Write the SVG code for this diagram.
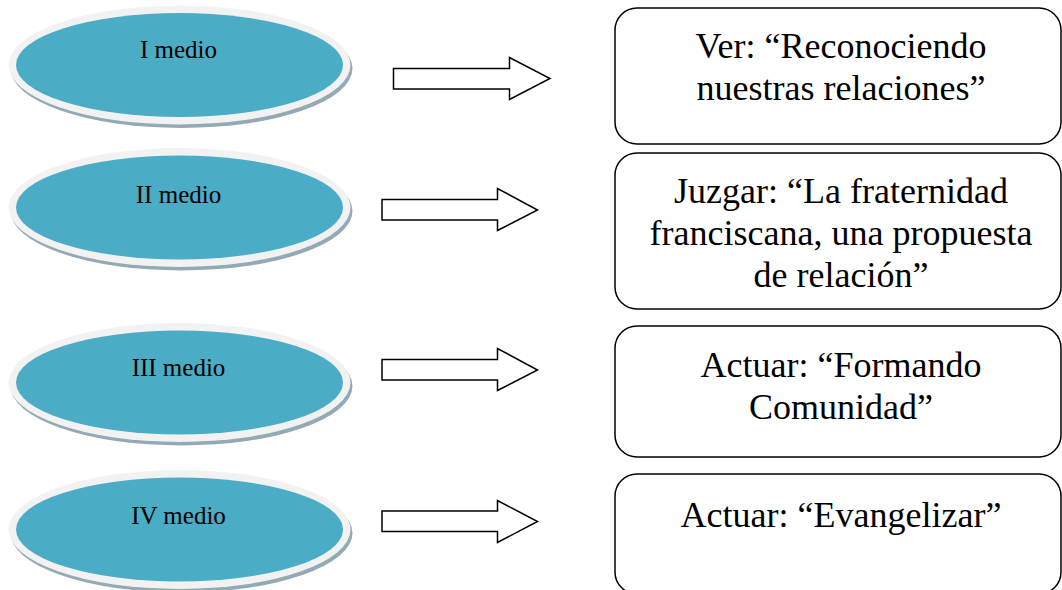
<svg xmlns="http://www.w3.org/2000/svg" width="1062" height="590" viewBox="0 0 1062 590">
<defs>
<style>
.shadow{fill:#93AAB5}
.ring{fill:#F2F2F2}
.core{fill:#4BACC6}
.etext{font-family:"Liberation Serif","Times New Roman",serif;font-size:25px;fill:#000;text-anchor:middle}
.box{fill:#fff;stroke:#000;stroke-width:1.5}
.btext{font-family:"Liberation Serif","Times New Roman",serif;font-size:36px;fill:#000;text-anchor:middle}
.arrow{fill:#fff;stroke:#000;stroke-width:1.5;stroke-linejoin:miter}
</style>
<g id="oval">
<ellipse class="shadow" cx="181.5" cy="3.5" rx="171" ry="59.5"/>
<ellipse class="ring" cx="179.5" cy="0" rx="171" ry="59.5"/>
<ellipse class="core" cx="179.5" cy="0" rx="163.5" ry="52"/>
</g>
</defs>
<rect width="1062" height="590" fill="#fff"/>
<g id="node-i">
<use href="#oval" y="65"/>
<text class="etext" x="178.5" y="58">I medio</text>
</g>
<g id="node-ii">
<use href="#oval" y="207.5"/>
<text class="etext" x="178.5" y="203">II medio</text>
</g>
<g id="node-iii">
<use href="#oval" y="382.5"/>
<text class="etext" x="178.5" y="376">III medio</text>
</g>
<g id="node-iv">
<use href="#oval" y="529.5"/>
<text class="etext" x="178.5" y="524">IV medio</text>
</g>
<g id="node-ver">
<rect class="box" x="615" y="8" width="446" height="136" rx="22"/>
<text class="btext" x="841" y="58">Ver: “Reconociendo</text>
<text class="btext" x="841" y="100">nuestras relaciones”</text>
</g>
<g id="node-juzgar">
<rect class="box" x="615" y="153" width="446" height="156" rx="22"/>
<text class="btext" x="841" y="203">Juzgar: “La fraternidad</text>
<text class="btext" x="841" y="245">franciscana, una propuesta</text>
<text class="btext" x="841" y="287">de relación”</text>
</g>
<g id="node-actuar1">
<rect class="box" x="615" y="326" width="446" height="131" rx="22"/>
<text class="btext" x="841" y="377">Actuar: “Formando</text>
<text class="btext" x="841" y="419">Comunidad”</text>
</g>
<g id="node-actuar2">
<rect class="box" x="615" y="474" width="446" height="120" rx="22"/>
<text class="btext" x="841" y="527">Actuar: “Evangelizar”</text>
</g>
<g id="connectors">
<polygon class="arrow" points="393.5,68.5 509.5,68.5 509.5,57.5 550,78.5 509.5,99.5 509.5,89 393.5,89"/>
<polygon class="arrow" points="382,199.5 497.5,199.5 497.5,188.5 537.5,210 497.5,230.5 497.5,220 382,220"/>
<polygon class="arrow" points="382,359.5 497.5,359.5 497.5,348.5 537.5,370 497.5,390.5 497.5,380 382,380"/>
<polygon class="arrow" points="382,511 497.5,511 497.5,500.5 537.5,521.5 497.5,542.5 497.5,531.5 382,531.5"/>
</g>
</svg>
